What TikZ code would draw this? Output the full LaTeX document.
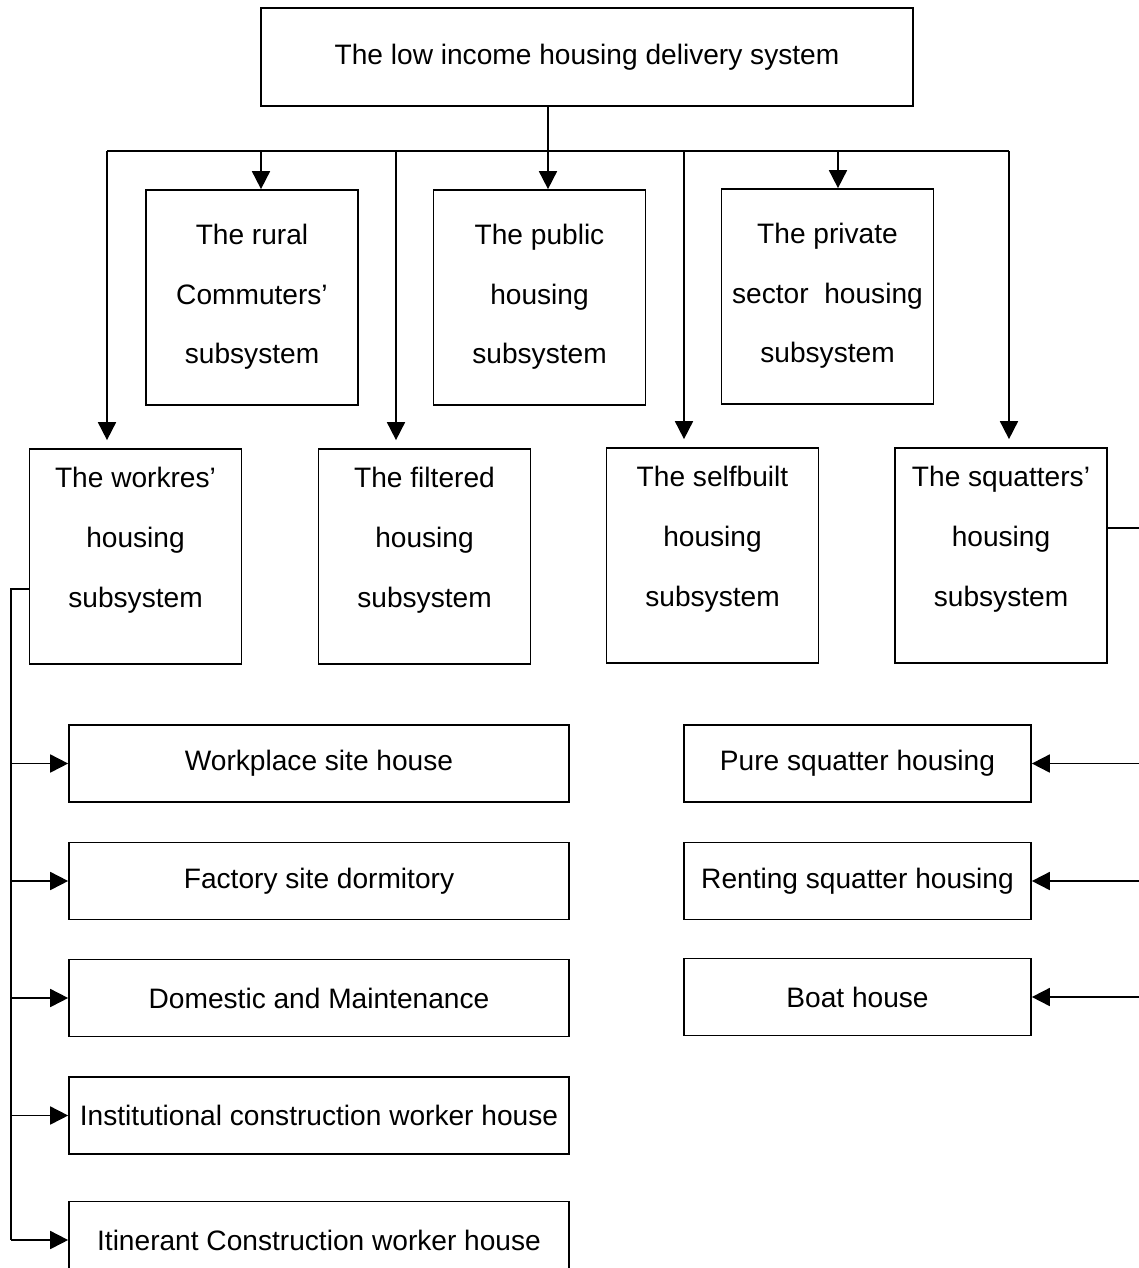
\documentclass[tikz,border=0pt]{standalone}
\usepackage{fontspec}
\setmainfont{Liberation Sans}
\usetikzlibrary{arrows.meta}

\begin{document}
\begin{tikzpicture}[x=0.02cm, y=-0.02cm, line width=1pt,
		box/.style={draw, align=center, inner sep=0pt, font=\fontsize{16}{34}\selectfont},
		subbox/.style={box, minimum width=4.24cm, minimum height=4.3cm},
		leftbox/.style={box, minimum width=10cm, minimum height=1.54cm},
		rightbox/.style={box, minimum width=6.94cm, minimum height=1.54cm},
		arr/.style={-{Triangle[length=0.36cm, width=0.36cm]}}]
			\useasboundingbox (0,0) rectangle (1139,1268);

			\node[box, minimum width=13.04cm, minimum height=1.96cm] (top) at (587,57) {The low income housing delivery system};

			\node[subbox] (rural) at (252,297.5) {The rural\\Commuters'\\subsystem\\[-30pt]\mbox{}};
			\node[subbox] (public) at (539.5,297.5) {The public\\housing\\subsystem\\[-30pt]\mbox{}};
			\node[subbox] (private) at (827.5,296.5) {The private\\sector\ \ housing\\subsystem\\[-30pt]\mbox{}};

			\node[subbox] (workers) at (135.5,556.5) {The workres'\\housing\\subsystem\\[-12pt]\mbox{}};
			\node[subbox] (filtered) at (424.5,556.5) {The filtered\\housing\\subsystem\\[-12pt]\mbox{}};
			\node[subbox] (selfbuilt) at (712.5,555.5) {The selfbuilt\\housing\\subsystem\\[-12pt]\mbox{}};
			\node[subbox] (squatters) at (1001,555.5) {The squatters'\\housing\\subsystem\\[-12pt]\mbox{}};

			\node[leftbox] (workplace) at (319,763.5) {Workplace site house};
			\node[leftbox] (factory) at (319,881) {Factory site dormitory};
			\node[leftbox] (domestic) at (319,998) {Domestic and Maintenance};
			\node[leftbox] (institutional) at (319,1115.5) {Institutional construction worker house};
			\node[leftbox] (itinerant) at (319,1240) {Itinerant Construction worker house};

			\node[rightbox] (pure) at (857.5,763.5) {Pure squatter housing};
			\node[rightbox] (renting) at (857.5,881) {Renting squatter housing};
			\node[rightbox] (boat) at (857.5,997) {Boat house};

			\foreach \x/\n in {107/b1, 261/b2, 396/b3, 548/b4, 684/b5, 838/b6, 1009/b7}
				\coordinate (\n) at (\x,151);
			\coordinate (lspine) at (11,589);
			\coordinate (rspine) at (1170,528);

			\draw[arr] (top.south -| b4) -- (public.north -| b4);
			\draw (b1) -- (b7);
			\draw[arr] (b2) -- (rural.north -| b2);
			\draw[arr] (b6) -- (private.north -| b6);
			\draw[arr, shorten >=0.16cm] (b1) -- (workers.north -| b1);
			\draw[arr, shorten >=0.16cm] (b3) -- (filtered.north -| b3);
			\draw[arr, shorten >=0.16cm] (b5) -- (selfbuilt.north -| b5);
			\draw[arr, shorten >=0.16cm] (b7) -- (squatters.north -| b7);

			\draw (workers.west |- lspine) -- (lspine) -- (lspine |- itinerant.west);
			\foreach \n in {workplace, factory, domestic, institutional, itinerant}
				\draw[arr] (lspine |- \n.west) -- (\n.west);

			\draw (squatters.east |- rspine) -- (rspine) -- (rspine |- boat.east);
			\foreach \n in {pure, renting, boat}
				\draw[arr] (rspine |- \n.east) -- (\n.east);
		\end{tikzpicture}
\end{document}
